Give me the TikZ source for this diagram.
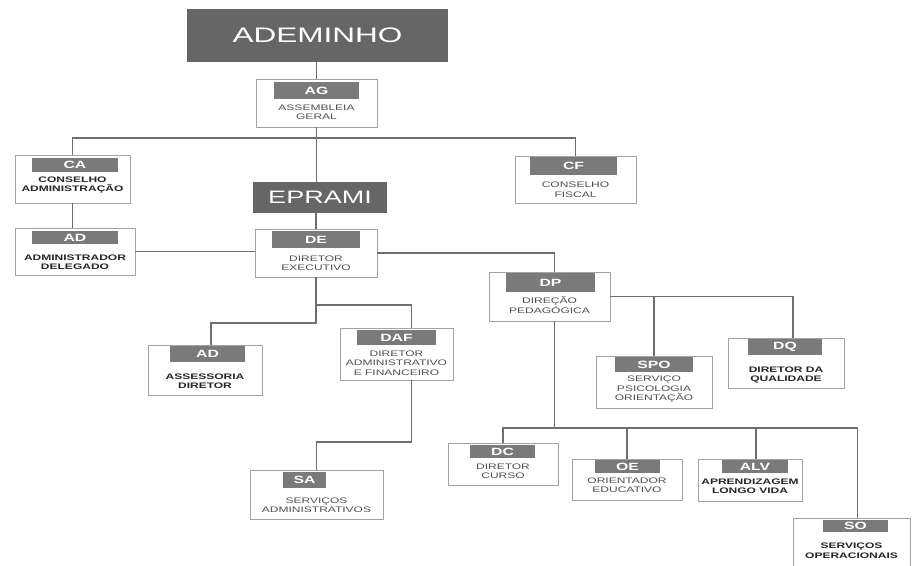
\documentclass[tikz,border=0pt]{standalone}
\usepackage{fontspec}
\newfontfamily\orgfont[FakeStretch=1.5]{Liberation Sans}

\definecolor{bannergray}{HTML}{666666}
\definecolor{hdrgray}{HTML}{7A7A7A}
\definecolor{framegray}{HTML}{A3A3A3}
\definecolor{wiregray}{HTML}{6E6E6E}
\definecolor{dutygray}{HTML}{505050}

\tikzset{
  banner/.style={fill=bannergray, text=white, inner sep=0pt, font=\orgfont\fontsize{21}{21}\selectfont},
  orgbox/.style={draw=framegray, line width=0.9pt, fill=white, inner sep=0pt},
  hdr/.style={fill=hdrgray, text=white, inner sep=0pt, font=\orgfont\bfseries\fontsize{10.5}{10.5}\selectfont},
  duty/.style={align=center, inner sep=0pt, text=dutygray, font=\orgfont\fontsize{8}{9.5}\selectfont},
  dutybold/.style={duty, text=black!85, font=\orgfont\bfseries\fontsize{8}{9.5}\selectfont},
  wire/.style={draw=wiregray, line width=1.1pt},
}

\begin{document}
\begin{tikzpicture}[x=1pt,y=-1pt]
\useasboundingbox (0,0) rectangle (912,565);

\node[banner, minimum width=261pt, minimum height=53pt] (ademinho) at (317.5,35.5) {ADEMINHO};

\node[orgbox, minimum width=121pt, minimum height=48pt] (ag) at (316.5,103) {};
\node[hdr, minimum width=85pt, minimum height=17pt] (ag-h) at (316.5,90.5) {AG};
\node[duty] (ag-t) at (316.5,112) {ASSEMBLEIA\\GERAL};

\node[orgbox, minimum width=115pt, minimum height=48pt] (ca) at (72.5,179) {};
\node[hdr, minimum width=86pt, minimum height=14pt] (ca-h) at (75,165) {CA};
\node[dutybold] (ca-t) at (72.5,185) {CONSELHO\\ADMINISTRAÇÃO};

\node[orgbox, minimum width=121pt, minimum height=47pt] (cf) at (575.5,179.5) {};
\node[hdr, minimum width=87pt, minimum height=18pt] (cf-h) at (573.5,166) {CF};
\node[duty] (cf-t) at (575.5,189.5) {CONSELHO\\FISCAL};

\node[banner, minimum width=134pt, minimum height=31pt, font=\orgfont\fontsize{18}{18}\selectfont] (epr) at (320,197.5) {EPRAMI};

\node[orgbox, minimum width=120pt, minimum height=47pt] (ad) at (75,251.5) {};
\node[hdr, minimum width=86pt, minimum height=13pt] (ad-h) at (75,237.5) {AD};
\node[dutybold] (ad-t) at (75,262) {ADMINISTRADOR\\DELEGADO};

\node[orgbox, minimum width=122pt, minimum height=48pt] (de) at (316,253) {};
\node[hdr, minimum width=88pt, minimum height=17pt] (de-h) at (316,239.5) {DE};
\node[duty] (de-t) at (316,263) {DIRETOR\\EXECUTIVO};

\node[orgbox, minimum width=121pt, minimum height=49pt] (dp) at (549.5,296.5) {};
\node[hdr, minimum width=89pt, minimum height=19pt] (dp-h) at (550.5,282.5) {DP};
\node[duty] (dp-t) at (549.5,305) {DIREÇÃO\\PEDAGÓGICA};

\node[orgbox, minimum width=116pt, minimum height=52pt] (spo) at (654,382) {};
\node[hdr, minimum width=78pt, minimum height=15pt] (spo-h) at (654,364.5) {SPO};
\node[duty] (spo-t) at (654,389.5) {SERVIÇO\\PSICOLOGIA\\ORIENTAÇÃO};

\node[orgbox, minimum width=116pt, minimum height=50pt] (dq) at (786,363) {};
\node[hdr, minimum width=74pt, minimum height=16pt] (dq-h) at (785,347) {DQ};
\node[dutybold] (dq-t) at (786,375) {DIRETOR DA\\QUALIDADE};

\node[orgbox, minimum width=114pt, minimum height=50pt] (asd) at (205,370) {};
\node[hdr, minimum width=75pt, minimum height=16pt] (asd-h) at (207.5,354) {AD};
\node[dutybold] (asd-t) at (205,381) {ASSESSORIA\\DIRETOR};

\node[orgbox, minimum width=113pt, minimum height=52pt] (daf) at (396.5,354) {};
\node[hdr, minimum width=79pt, minimum height=15pt] (daf-h) at (396.5,337.5) {DAF};
\node[duty] (daf-t) at (396.5,363) {DIRETOR\\ADMINISTRATIVO\\E FINANCEIRO};

\node[orgbox, minimum width=133pt, minimum height=49pt] (sa) at (316.5,494.5) {};
\node[hdr, minimum width=43pt, minimum height=16pt] (sa-h) at (304.5,480) {SA};
\node[duty] (sa-t) at (316.5,505) {SERVIÇOS\\ADMINISTRATIVOS};

\node[orgbox, minimum width=110pt, minimum height=42pt] (dc) at (503,464) {};
\node[hdr, minimum width=65pt, minimum height=13pt] (dc-h) at (502.5,451.5) {DC};
\node[duty] (dc-t) at (503,471) {DIRETOR\\CURSO};

\node[orgbox, minimum width=110pt, minimum height=41pt] (oe) at (627,479.5) {};
\node[hdr, minimum width=65pt, minimum height=13pt] (oe-h) at (627.5,466.5) {OE};
\node[duty] (oe-t) at (627,485) {ORIENTADOR\\EDUCATIVO};

\node[orgbox, minimum width=104pt, minimum height=42pt] (alv) at (750,480) {};
\node[hdr, minimum width=66pt, minimum height=13pt] (alv-h) at (755,466.5) {ALV};
\node[dutybold] (alv-t) at (750,486) {APRENDIZAGEM\\LONGO VIDA};

\node[orgbox, minimum width=117pt, minimum height=50pt] (so) at (851.5,543) {};
\node[hdr, minimum width=65pt, minimum height=12pt] (so-h) at (855.5,526) {SO};
\node[dutybold] (so-t) at (851.5,550.5) {SERVIÇOS\\OPERACIONAIS};

\coordinate (bus) at (316.5,138);
\coordinate (split) at (316,305);
\coordinate (fork) at (316,323);
\coordinate (sa-in) at (316.5,442);
\coordinate (rail) at (554.5,428);
\coordinate (alv-in) at ([xshift=6pt]alv.north);

\draw[wire] (ademinho.south -| ag.north) -- (ag.north);
\draw[wire] (ag.south) -- (ag.south |- epr.north);
\draw[wire] (ca.north) |- (bus) -| (cf.north);
\draw[wire] (ca.south) -- (ca.south |- ad.north);
\draw[wire] (epr.south -| de.north) -- (de.north);
\draw[wire] (ad.east) -- (ad.east -| de.west);
\draw[wire] (de.east) -| ([xshift=5pt]dp.north);
\draw[wire] (de.south) -- (fork) -| ([xshift=6pt]asd.north);
\draw[wire] (split) -| ([xshift=15pt]daf.north);
\draw[wire] ([xshift=15pt]daf.south) |- (sa-in) -- (sa.north);
\draw[wire] (dp.east) -| ([xshift=7pt]dq.north);
\draw[wire] (dp.east -| spo.north) -- (spo.north);
\draw[wire] ([xshift=5pt]dp.south) -- (rail);
\draw[wire] (dc.north) |- (rail) -| ([xshift=6pt]so.north);
\draw[wire] (rail -| oe.north) -- (oe.north);
\draw[wire] (rail -| alv-in) -- (alv-in);
\end{tikzpicture}
\end{document}
